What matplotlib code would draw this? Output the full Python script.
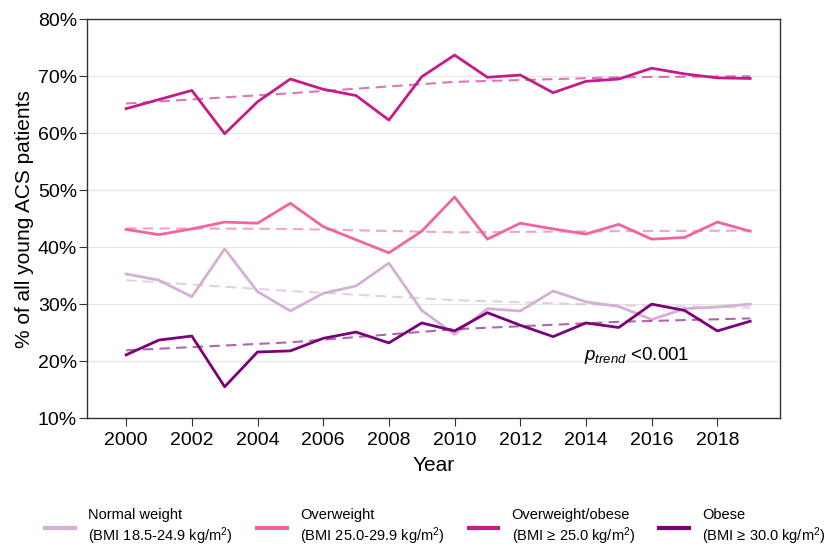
import numpy as np
import matplotlib.pyplot as plt

plt.rcParams['font.family'] = ['Liberation Sans', 'DejaVu Sans']
plt.rcParams['mathtext.fontset'] = 'custom'
plt.rcParams['mathtext.rm'] = 'Liberation Sans'
plt.rcParams['mathtext.it'] = 'Liberation Sans:italic'

years = list(range(2000, 2020))

normal = [35.3, 34.2, 31.3, 39.7, 32.2, 28.8, 31.9, 33.2, 37.2, 28.9,
          24.7, 29.2, 28.8, 32.3, 30.4, 29.6, 27.3, 29.2, 29.5, 30.0]
overweight = [43.1, 42.2, 43.2, 44.4, 44.2, 47.7, 43.6, 41.3, 39.0, 42.8,
              48.8, 41.4, 44.2, 43.2, 42.3, 44.0, 41.4, 41.7, 44.4, 42.8]
ow_obese = [64.3, 65.9, 67.5, 59.9, 65.5, 69.5, 67.7, 66.6, 62.3, 69.9,
            73.7, 69.8, 70.2, 67.1, 69.1, 69.5, 71.4, 70.4, 69.7, 69.6]
obese = [21.1, 23.7, 24.4, 15.5, 21.6, 21.8, 24.0, 25.1, 23.2, 26.7,
         25.3, 28.5, 26.3, 24.3, 26.7, 25.9, 30.0, 28.9, 25.3, 27.0]

# fitted trend lines
trend_years = [2000, 2005, 2010, 2015, 2019]
normal_trend = [34.2, 32.3, 30.7, 29.8, 29.4]
overweight_trend = [43.3, 43.2, 42.6, 42.8, 42.9]
ow_obese_trend = [65.2, 67.0, 69.0, 69.8, 70.0]
obese_trend = [21.9, 23.3, 25.6, 26.9, 27.5]

labels = ['Normal weight\n(BMI 18.5-24.9 kg/m$^2$)',
          'Overweight\n(BMI 25.0-29.9 kg/m$^2$)',
          'Overweight/obese\n(BMI \u2265 25.0 kg/m$^2$)',
          'Obese\n(BMI \u2265 30.0 kg/m$^2$)']
colors = ['#d4b0d4', '#f064a0', '#c51b8a', '#7a0177']

fig = plt.figure(figsize=(8.26, 5.48), dpi=100)
ax = fig.add_axes([0.105, 0.237, 0.839, 0.728])

series = [normal, overweight, ow_obese, obese]
trends = [normal_trend, overweight_trend, ow_obese_trend, obese_trend]
for vals, tr, col, lab in zip(series, trends, colors, labels):
    ax.plot(years, vals, color=col, lw=2, label=lab)
    ax.plot(trend_years, tr, color=col, lw=1.5, ls=(0, (5, 3)), alpha=0.6)

ax.text(2013.95, 21, r'$p_{trend}$ <0.001', fontsize=13.5, va='center', ha='left')

ax.set_ylim(10, 80)
ax.set_xlim(1998.8, 2019.9)
ax.set_yticks(range(10, 81, 10))
ax.set_yticklabels([f'{v}%' for v in range(10, 81, 10)])
ax.set_xticks(range(2000, 2019, 2))
ax.tick_params(labelsize=14, color='#333333', direction='out', length=6, pad=1)
ax.tick_params(axis='x', pad=4)
ax.yaxis.grid(True, color='#e6e6e6', lw=0.8)
ax.set_axisbelow(True)
for s in ax.spines.values():
    s.set_color('#333333')
    s.set_linewidth(1.0)
ax.set_xlabel('Year', fontsize=15, labelpad=5)
ax.set_ylabel('% of all young ACS patients', fontsize=15, labelpad=3)

leg = fig.legend(loc='center', bbox_to_anchor=(0.527, 0.037), ncol=4, frameon=False,
                 fontsize=10.5, handlelength=2.05, handletextpad=0.9, columnspacing=1.65)
for h in leg.get_lines():
    h.set_linewidth(3)

fig.savefig('out.png', dpi=100)
